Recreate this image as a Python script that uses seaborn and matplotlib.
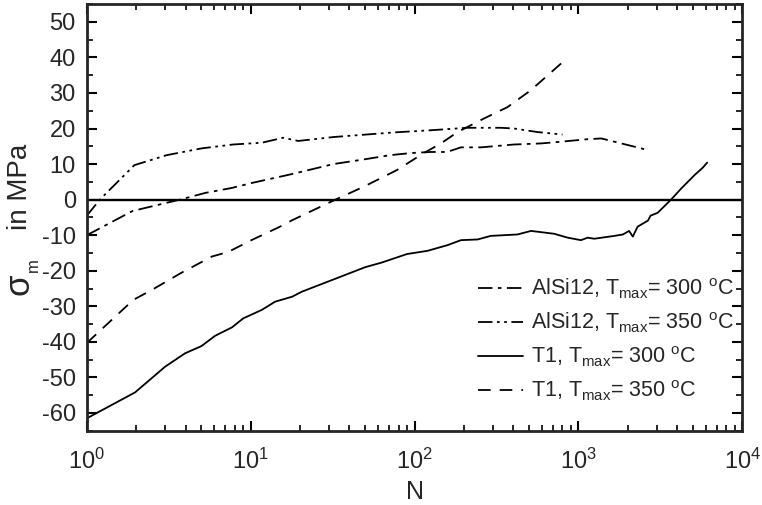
import matplotlib
matplotlib.use("Agg")
from matplotlib import pyplot as plt
from matplotlib.lines import Line2D
from matplotlib.ticker import MultipleLocator, LogLocator
import seaborn as sns
import pandas as pd

# AlSi12, Tmax = 300 C  (dash-dot)
alsi_300_n = [1, 1.9, 3.7, 5.3, 7.7, 10.2, 17.9, 32, 49, 71, 95, 125, 158, 192, 254,
              405, 590, 750, 1140, 1380, 1690, 2520]
alsi_300_s = [-10, -3.2, 0, 1.9, 3.3, 4.7, 7.2, 10, 11.3, 12.5, 13.1, 13.4, 13.4, 14.7, 14.7,
              15.5, 15.8, 16.2, 17.0, 17.2, 16.2, 14.2]

# AlSi12, Tmax = 350 C  (dash-dot-dot)
alsi_350_n = [1, 1.2, 1.95, 3.07, 5.0, 7.8, 11.7, 15.8, 19.5, 32, 75, 125, 209, 336, 405, 563, 800]
alsi_350_s = [-4.5, 0, 9.7, 12.5, 14.4, 15.5, 16, 17.4, 16.5, 17.6, 18.9, 19.5, 20.2, 20.2, 20, 19, 18.3]

# T1, Tmax = 300 C  (solid)
t1_300_n = [1, 1.97, 3.0, 3.98, 5.0, 6.06, 7.7, 9.0, 11.7, 14.1, 17.9, 20.5, 31.4, 50, 63,
            90, 120, 159, 192, 243, 292, 425, 514, 711, 861, 1036, 1140, 1250, 1660, 1870,
            2040, 2150, 2300, 2660, 2760, 3050, 3680, 4240, 5120, 5750, 6110]
t1_300_s = [-61.5, -54.2, -47, -43.2, -41.2, -38.3, -35.9, -33.4, -31, -28.7, -27.3, -25.9, -22.6, -19, -17.7,
            -15.3, -14.4, -12.8, -11.4, -11.2, -10.2, -9.8, -8.8, -9.6, -10.7, -11.4, -10.7, -11, -10.2, -9.8,
            -8.8, -10.4, -7.6, -5.9, -4.5, -3.7, 0, 3.1, 6.9, 9, 10.4]

# T1, Tmax = 350 C  (dashed)
t1_350_n = [1, 1.92, 2.49, 3.8, 5.8, 7.3, 10.1, 14.8, 17.9, 32.9, 48.8, 78, 113, 145, 183, 265, 369, 514, 785]
t1_350_s = [-40.3, -28.2, -25.4, -20.5, -16, -14.7, -11.4, -7.8, -5.8, 0, 3.6, 8.3, 13, 15.8, 19, 22.8, 26, 30.8, 38.3]

labels = [r'AlSi12, T$_{\rm max}$= 300 $^{\rm o}$C',
          r'AlSi12, T$_{\rm max}$= 350 $^{\rm o}$C',
          r'T1, T$_{\rm max}$= 300 $^{\rm o}$C',
          r'T1, T$_{\rm max}$= 350 $^{\rm o}$C']

sns.set_style("ticks")
plt.rcParams['font.family'] = ['Liberation Sans', 'DejaVu Sans']
plt.rcParams['mathtext.fontset'] = 'custom'
plt.rcParams['mathtext.rm'] = 'Liberation Sans'
plt.rcParams['mathtext.it'] = 'Liberation Sans:italic'
plt.rcParams['mathtext.default'] = 'regular'
plt.rcParams['axes.unicode_minus'] = False

W, H = 762, 505
fig = plt.figure(figsize=(W / 100, H / 100), dpi=100)
ax = fig.add_axes([0.114, 0.147, 0.86, 0.845])

styles = [(0, (8, 3, 2, 3)),
          (0, (8, 2.5, 1.5, 2.5, 1.5, 2.5)),
          '-',
          (0, (7, 5))]
series = [(alsi_300_n, alsi_300_s), (alsi_350_n, alsi_350_s),
          (t1_300_n, t1_300_s), (t1_350_n, t1_350_s)]

handles = []
for (n, s), ls, lab in zip(series, styles, labels):
    df = pd.DataFrame({'N': n, 'sigma': s})
    sns.lineplot(data=df, x='N', y='sigma', ax=ax, color='black', lw=1.3,
                 estimator=None, sort=False, linestyle=ls)
    handles.append(Line2D([], [], color='black', lw=1.3, linestyle=ls))

ax.axhline(0, color='black', lw=1.7)

ax.set_xscale('log')
ax.set_xlim(1, 1e4)
ax.set_ylim(-65, 55)
ax.yaxis.set_major_locator(MultipleLocator(10))
ax.yaxis.set_minor_locator(MultipleLocator(5))
ax.xaxis.set_major_locator(LogLocator(base=10))
ax.xaxis.set_minor_locator(LogLocator(base=10, subs=range(2, 10)))

for sp in ax.spines.values():
    sp.set_linewidth(2)
ax.tick_params(which='both', direction='in', top=True, right=True, labelsize=17, color='black')
ax.tick_params(which='major', length=7, width=1.5)
ax.tick_params(which='minor', length=4, width=1.2)
ax.tick_params(axis='x', which='major', pad=13)
ax.tick_params(axis='y', which='major', pad=8)

ax.set_xlabel('N', fontsize=18, labelpad=4)
ax.set_ylabel('')

# y label: big sigma, subscript m, then "in MPa" (rotated, common baseline)
def put(x, y, s, size):
    fig.text(x / W, 1 - y / H, s, fontsize=size, rotation=90, rotation_mode='anchor',
             ha='left', va='baseline')

put(28, 295, '\u03c3', 25)
put(38, 272, 'm', 12)
put(27, 230, 'in MPa', 20)

ax.legend(handles, labels, loc='lower right', frameon=False, fontsize=15.5,
          handlelength=2.1, handletextpad=0.35, labelspacing=0.45,
          bbox_to_anchor=(1.0, 0.045), borderaxespad=0.0)

fig.savefig('out.png', dpi=100)
